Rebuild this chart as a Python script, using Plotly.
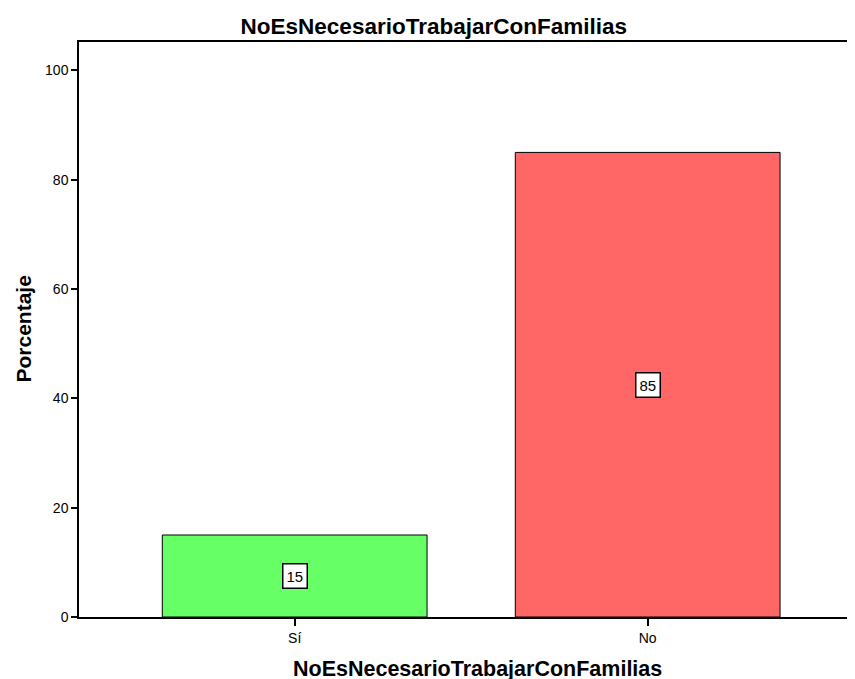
import plotly.graph_objects as go

# datos
categorias = ["Sí", "No"]
porcentajes = [15, 85]
colores = ["#66FF66", "#FF6666"]
ticks_y = [0, 20, 40, 60, 80, 100]

titulo = "NoEsNecesarioTrabajarConFamilias"
FUENTE = "Liberation Sans, Arial, sans-serif"

fig = go.Figure()
fig.add_trace(go.Bar(
    x=[0, 1], y=porcentajes,
    width=0.75,
    marker=dict(color=colores, line=dict(color="black", width=1)),
    hoverinfo="skip",
))

# etiquetas con caja blanca en el centro de cada barra
for i, v in enumerate(porcentajes):
    fig.add_annotation(
        x=i, y=v / 2, text=str(v), showarrow=False,
        font=dict(family=FUENTE, size=15, color="black"),
        bgcolor="white", bordercolor="black", borderwidth=1.5, borderpad=3,
    )

# títulos de ejes como anotaciones (posición fija)
fig.add_annotation(
    xref="paper", yref="paper", x=0.508, y=0, yshift=-52,
    xanchor="center", yanchor="middle", showarrow=False,
    text="<b>" + titulo + "</b>", font=dict(family=FUENTE, size=21.5, color="black"),
)
fig.add_annotation(
    xref="paper", yref="paper", x=0, y=0.5, xshift=-56,
    xanchor="center", yanchor="middle", showarrow=False, textangle=-90,
    text="<b>Porcentaje</b>", font=dict(family=FUENTE, size=21, color="black"),
)

# la página tiene un margen de 8 px, por eso los márgenes van desplazados
fig.update_layout(
    width=855, height=679,
    margin=dict(l=71, r=0, t=34, b=70),
    plot_bgcolor="white", paper_bgcolor="white",
    showlegend=False,
    title=dict(text="<b>" + titulo + "</b>", x=0.498, xanchor="center",
               y=1 - 18 / 679, yanchor="middle",
               font=dict(family=FUENTE, size=22.5, color="black")),
    font=dict(family=FUENTE, size=14, color="black"),
)
fig.update_xaxes(
    range=[-0.611, 1.61],
    tickvals=[0, 1], ticktext=categorias,
    ticks="outside", ticklen=7, tickwidth=1.5, tickcolor="black",
    showline=True, linecolor="black", linewidth=1.5, mirror=True,
    showgrid=False, zeroline=False, automargin=False,
)
fig.update_yaxes(
    range=[0, 105.2],
    tickvals=ticks_y,
    ticks="outside", ticklen=6, tickwidth=1.5, tickcolor="black",
    showline=True, linecolor="black", linewidth=1.5,
    showgrid=False, zeroline=False, automargin=False,
)

fig.write_html("out.html")
